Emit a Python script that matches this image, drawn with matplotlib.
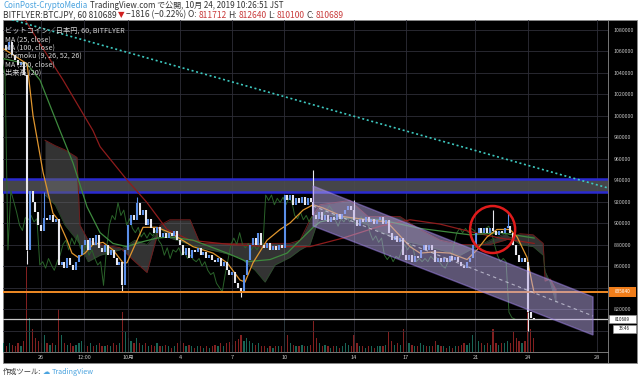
import matplotlib
matplotlib.use("Agg")
import matplotlib.pyplot as plt
import matplotlib.transforms as mtransforms
from matplotlib.patches import Rectangle, Ellipse, Polygon
import numpy as np

plt.rcParams['font.family'] = ['Noto Sans CJK JP', 'DejaVu Sans']

# ---------------- data (prices in thousand JPY where suffixed _k) ----------------
bar_start_day = -0.1525          # days since 2019-09-24 00:00
bar_hours = 4
close_k = [1066, 1061, 1068, 1056, 1052, 1047, 1050, 1038, 875, 930,
           920, 910, 898, 893, 905, 903, 907, 901, 904, 861,
           864, 858, 867, 861, 856, 864, 870, 880, 884, 875,
           886, 880, 889, 877, 873, 880, 870, 875, 867, 861,
           864, 842, 875, 898, 907, 903, 919, 907, 912, 898,
           904, 895, 891, 896, 887, 891, 886, 891, 888, 893,
           884, 880, 870, 877, 867, 875, 873, 877, 870, 873,
           867, 870, 866, 864, 867, 860, 864, 856, 852, 854,
           844, 840, 836, 852, 866, 880, 886, 880, 891, 880,
           877, 881, 875, 879, 875, 880, 877, 926, 921, 926,
           917, 923, 919, 924, 917, 923, 920, 907, 904, 910,
           903, 907, 901, 906, 903, 908, 904, 908, 912, 916,
           912, 903, 897, 904, 901, 906, 901, 904, 899, 903,
           906, 899, 903, 891, 884, 888, 882, 886, 870, 866,
           870, 864, 869, 867, 875, 880, 875, 880, 875, 864,
           867, 864, 867, 864, 869, 866, 868, 864, 860, 858,
           864, 867, 880, 891, 895, 891, 895, 891, 895, 893,
           889, 893, 891, 895, 897, 891, 880, 870, 864, 867,
           864, 817, 812, 810.689]
volume = [3, 2, 3, 2.5, 2, 3, 2, 4, 30, 12,
          8, 5, 4, 3, 6, 3, 2.5, 3, 2.5, 15,
          6, 3, 2.5, 3, 2, 2.5, 3, 4, 2.5, 2,
          3, 2, 2.5, 3, 2, 2, 2.5, 2, 3, 2.5,
          3, 14, 7, 5, 4, 3, 5, 3, 2.5, 3,
          2, 2.5, 2, 3, 2, 2, 2.5, 2, 1.5, 2,
          3, 4, 3, 2, 2.5, 2, 1.5, 2, 2, 1.5,
          2, 1.5, 2, 2.5, 2, 3, 2, 3, 3.5, 2.5,
          4, 4.5, 6, 4, 5, 4, 3, 2.5, 3, 2,
          2, 1.5, 2, 1.5, 2, 2, 2, 12, 6, 3,
          2.5, 2, 2, 2.5, 2, 2, 2.5, 11, 5, 3,
          2, 2.5, 2, 1.5, 2, 2, 1.5, 2, 3, 2.5,
          2, 6, 3, 2, 2, 1.5, 2, 2, 1.5, 2,
          2, 2, 2.5, 7, 4, 2.5, 3, 2.5, 8, 4,
          3, 2.5, 2, 2, 3, 2.5, 2, 2, 2, 4,
          2.5, 2, 2, 1.5, 2, 1.5, 2, 2, 2.5, 3,
          2.5, 3, 6, 7, 4, 3, 2.5, 3, 2.5, 8,
          3, 2.5, 3, 3, 4, 3, 7, 5, 4, 3,
          4, 14, 8, 5]
wick_bar = [8, 14, 41, 46, 82, 107, 121, 169, 174, 181]
wick_k = [862, 929, 837, 924, 831, 949, 921, 912, 910, 800]

ma25_day = [-0.15, 1.20, 1.54, 2.12, 2.69, 2.98, 3.50, 3.78, 4.13, 4.53, 4.99,
            5.57, 6.14, 6.72, 6.95, 7.53, 7.87, 8.68, 9.42, 10.75, 11.90,
            12.71, 13.45, 13.74, 14.20, 15.01, 15.76, 16.33, 17.08, 17.66, 18.23,
            19.38, 20.76, 21.91, 22.49, 23.24, 23.81, 24.56, 25.54, 26.52, 27.09,
            27.67, 28.24, 28.99, 29.40, 29.97, 30.26, 30.38]
ma25_k = [1062, 1048, 1000, 947, 909, 903, 884, 872, 868, 872, 880,
          882, 875, 863, 863, 884, 896, 896, 891, 878, 872,
          863, 847, 845, 863, 884, 894, 900, 912, 917, 914,
          906, 903, 901, 891, 878, 872, 873, 872, 866, 875,
          887, 894, 894, 887, 868, 844, 835]
ma100_day = [-0.19, 1.19, 1.94, 3.09, 3.84, 4.65, 5.40, 6.14, 6.95, 7.70, 8.68,
             9.42, 10.75, 12.71, 13.86, 15.18, 16.16, 16.91, 17.66, 18.06, 19.21,
             21.51, 23.81, 26.69, 28.42, 30.38]
ma100_k = [1053, 1048, 1033, 986, 956, 915, 891, 881, 878, 882, 886,
           887, 884, 872, 864, 866, 872, 884, 896, 901, 905,
           903, 895, 889, 891, 886]
ma200_day = [-0.19, 1.08, 2.52, 3.27, 4.99, 5.40, 6.95, 8.10, 9.25, 10.58,
             12.88, 15.18, 17.48, 19.38, 21.51, 23.24, 24.96, 26.69, 28.42, 30.38]
ma200_k = [1092, 1089, 1052, 1033, 986, 971, 940, 919, 894, 884,
           880, 878, 878, 886, 897, 903, 899, 892, 886, 881]

cloud_day = [2.23, 2.81, 3.38, 4.07, 4.24, 4.71, 5.40, 6.55, 7.41, 8.10,
             8.85, 9.42, 10.58, 11.15, 12.30, 13.45, 14.32, 14.89, 15.47, 16.33,
             16.91, 17.48, 18.06, 19.78, 20.82, 21.51, 22.66, 23.81, 24.96, 26.12,
             26.69, 27.84, 28.70, 29.57, 30.32, 30.90, 31.01, 31.30, 31.64]
span_a_k = [926, 917, 898, 884, 880, 864, 870, 875, 884, 880,
            895, 886, 880, 877, 873, 868, 856, 845, 861, 868,
            875, 880, 908, 905, 898, 892, 884, 880, 875, 870,
            875, 884, 890, 880, 878, 870, 855, 845, 826]
span_b_k = [977, 972, 968, 961, 898, 884, 880, 877, 864, 854,
            898, 903, 903, 881, 881, 881, 881, 881, 881, 881,
            884, 903, 917, 921, 906, 906, 906, 894, 884, 880,
            880, 880, 884, 890, 889, 881, 846, 848, 838]

tick_days = [2, 4.5, 7, 10, 13, 16, 20, 23, 27, 30, 34]
tick_labels = ['26', '12:00', '10月', '4', '7', '10', '14', '17', '21', '24', '28']
price_ticks = list(range(800000, 1080001, 20000))
hidden_price_labels = [800000, 840000]   # covered by the price-label boxes

zone_low, zone_high = 929000, 941000
support_level = 835840
last_price = 810689
trend_day = [-0.19, 34.63]
trend_price = [1091400, 932600]
channel_day = [17.66, 33.77]
channel_top = [934400, 831200]
channel_bottom = [897200, 795800]
circle_day, circle_price = 27.99, 893950
circle_w_days, circle_h_price = 2.59, 43700

legend_lines = ['ビットコイン／日本円, 60, BITFLYER', 'MA (25, close)', 'MA (100, close)',
                'Ichimoku (9, 26, 52, 26)', 'MA (200, close)', '出来高 (20)']

# ---------------- figure ----------------
W, H = 640, 382
fig = plt.figure(figsize=(W / 100, H / 100), dpi=100)
fig.patch.set_facecolor('white')


def fx(px):
    return px / W


def fy(py):
    return 1 - py / H


fig.add_artist(Rectangle((fx(3), fy(363)), fx(637) - fx(3), fy(20) - fy(363),
                         transform=fig.transFigure, facecolor='black',
                         edgecolor='#8a8a8a', lw=0.6, zorder=-5))

rect = [fx(3), fy(352), (608 - 3) / W, (352 - 20) / H]
XLIM = (-0.187, 34.63)
YLIM = (780000, 1088840)

vax = fig.add_axes(rect, zorder=1)
vax.set_facecolor('none')
vax.set_xlim(*XLIM)
vax.set_ylim(0, 117)
vax.axis('off')

ax = fig.add_axes(rect, zorder=2)
ax.set_facecolor('none')
ax.set_xlim(*XLIM)
ax.set_ylim(*YLIM)

closes = np.array(close_k) * 1000.0
days = bar_start_day + np.arange(len(closes)) * bar_hours / 24.0
opens = np.r_[closes[0], closes[:-1]]
up = closes >= opens
vol = np.array(volume)

# volume
vax.bar(days[up], vol[up], width=0.07, color='#1b6b5c', alpha=0.95)
vax.bar(days[~up], vol[~up], width=0.07, color='#8a2222', alpha=0.95)

# grid & axes
ax.set_yticks(price_ticks)
ax.set_yticklabels(['' if p in hidden_price_labels else str(p) for p in price_ticks])
ax.set_xticks(tick_days)
ax.set_xticklabels(tick_labels)
ax.grid(True, color='#2e2e38', lw=0.6)
ax.yaxis.tick_right()
ax.tick_params(axis='y', length=0, labelsize=3.8, labelcolor='#c8c8c8', pad=4)
ax.tick_params(axis='x', length=0, labelsize=4, labelcolor='#c8c8c8', pad=2)
for s in ['top', 'left']:
    ax.spines[s].set_visible(False)
for s in ['right', 'bottom']:
    ax.spines[s].set_color('#8a8a8a')
    ax.spines[s].set_linewidth(0.6)
fig.add_artist(plt.Line2D([fx(608), fx(608)], [fy(352), fy(363)], transform=fig.transFigure,
                          color='#8a8a8a', lw=0.6))

# resistance zone
ax.fill_between(XLIM, zone_low, zone_high, color='#4a4a4e', alpha=0.95, zorder=1.6, lw=0)
ax.axhline(zone_low, color='#2a2ad0', lw=1.8, zorder=1.7)
ax.axhline(zone_high, color='#2a2ad0', lw=1.8, zorder=1.7)

# ichimoku cloud
cd = np.array(cloud_day)
sa = np.array(span_a_k) * 1000
sb = np.array(span_b_k) * 1000
ax.fill_between(cd, sa, sb, color='#666666', alpha=0.5, lw=0, zorder=1.8)
ax.plot(cd, sb, color='#6e1c1c', lw=0.7, zorder=1.9)
ax.plot(cd, sa, color='#2a522a', lw=0.5, zorder=1.9)

# chikou (lagging span)
ax.plot(days - 26 / 24.0, closes, color='#2a632a', lw=0.7, zorder=2.0)

# moving averages
ax.plot(ma200_day, np.array(ma200_k) * 1000, color='#8e1c1c', lw=0.9, zorder=2.2)
ax.plot(ma100_day, np.array(ma100_k) * 1000, color='#3e8a3e', lw=0.9, zorder=2.2)
ax.plot(ma25_day, np.array(ma25_k) * 1000, color='#e0962e', lw=0.9, zorder=2.3)

# trend line
ax.plot(trend_day, trend_price, color='#3ec9c0', lw=1.2, ls=(0, (1.2, 1.6)), zorder=2.4)

# candles
ax.vlines(days[up], opens[up], closes[up], color='#5b8fe8', lw=1.5, zorder=3)
ax.vlines(days[~up], closes[~up], opens[~up], color='#e8e8ee', lw=1.5, zorder=3)
wb = np.array(wick_bar)
wc = np.where(up[wb], '#5b8fe8', '#e8e8ee')
ax.vlines(days[wb], closes[wb], np.array(wick_k) * 1000, colors=wc, lw=0.8, zorder=3)

# support and last price lines
ax.axhline(support_level, color='#f08a24', lw=1.4, zorder=3.5)
ax.axhline(last_price, color='#c8c8c8', lw=0.9, zorder=3.5)

# channel
poly = Polygon([(channel_day[0], channel_top[0]), (channel_day[1], channel_top[1]),
                (channel_day[1], channel_bottom[1]), (channel_day[0], channel_bottom[0])],
               closed=True, facecolor='#b9a8e6', alpha=0.5, edgecolor='#a184ee', lw=1.0, zorder=4)
ax.add_patch(poly)
ax.plot(channel_day, [(channel_top[0] + channel_bottom[0]) / 2, (channel_top[1] + channel_bottom[1]) / 2],
        color='#d8d8e8', lw=0.8, ls=(0, (3, 3)), alpha=0.7, zorder=4.1)

# red circle
ax.add_patch(Ellipse((circle_day, circle_price), circle_w_days, circle_h_price,
                     fill=False, edgecolor='#e01b1b', lw=1.8, zorder=5))

# price labels on axis
bt = mtransforms.blended_transform_factory(fig.transFigure, ax.transData)
ax.add_artist(Rectangle((fx(609), support_level - 5000), fx(636) - fx(609), 10000,
                        transform=bt, facecolor='#f07d1a', edgecolor='none', zorder=6, clip_on=False))
ax.text(fx(622.5), support_level, str(support_level), transform=bt, ha='center', va='center',
        fontsize=3.4, color='white', zorder=7, clip_on=False)
ax.add_artist(Rectangle((fx(609), last_price - 4000), fx(636) - fx(609), 8000,
                        transform=bt, facecolor='white', edgecolor='#999', lw=0.4, zorder=6, clip_on=False))
ax.text(fx(622.5), last_price, str(last_price), transform=bt, ha='center', va='center',
        fontsize=3.2, color='#111', zorder=7, clip_on=False)
ax.add_artist(Rectangle((fx(613), last_price - 12800), fx(636) - fx(613), 7600,
                        transform=bt, facecolor='white', edgecolor='#999', lw=0.4, zorder=6, clip_on=False))
ax.text(fx(624.5), last_price - 9000, '33:46', transform=bt, ha='center', va='center',
        fontsize=3.2, color='#111', zorder=7, clip_on=False)

# legend text in chart
for i, s in enumerate(legend_lines):
    fig.text(fx(5), fy(31 + i * 8.3), s, fontsize=5.2, color='#d4d4d4', va='center', ha='left', zorder=10)

# header and footer, segments laid out one after another
fig.canvas.draw()
renderer = fig.canvas.get_renderer()


def chain(x_px, y_px, parts, size, gap=1.0):
    x = x_px
    for s, c in parts:
        fam = ['DejaVu Sans'] if s in ('▼', '☁') else None
        kw = {'family': fam} if fam else {}
        t = fig.text(fx(x), fy(y_px), s, fontsize=size, color=c, va='center', ha='left', **kw)
        x += t.get_window_extent(renderer=renderer).width + gap


dark = '#333333'
red = '#c83a3a'
blue = '#4aa3df'
chain(3, 6, [('CoinPost-CryptoMedia', blue),
             ('TradingView.com で公開, 10月 24, 2019 10:26:51 JST', dark)], 5.8, gap=2.5)
chain(3, 15, [('BITFLYER:BTCJPY, 60 810689', dark), ('▼', '#d02020'),
              ('−1816 (−0.22%) O:', dark), ('811712', red), ('H:', dark), ('812640', red),
              ('L:', dark), ('810100', red), ('C:', dark), ('810689', red)], 6.1, gap=1.6)
chain(3, 372, [('作成ツール:', dark), ('☁', blue), ('TradingView', blue)], 5.2, gap=1.5)

fig.savefig('out.png', dpi=100, facecolor='white')
